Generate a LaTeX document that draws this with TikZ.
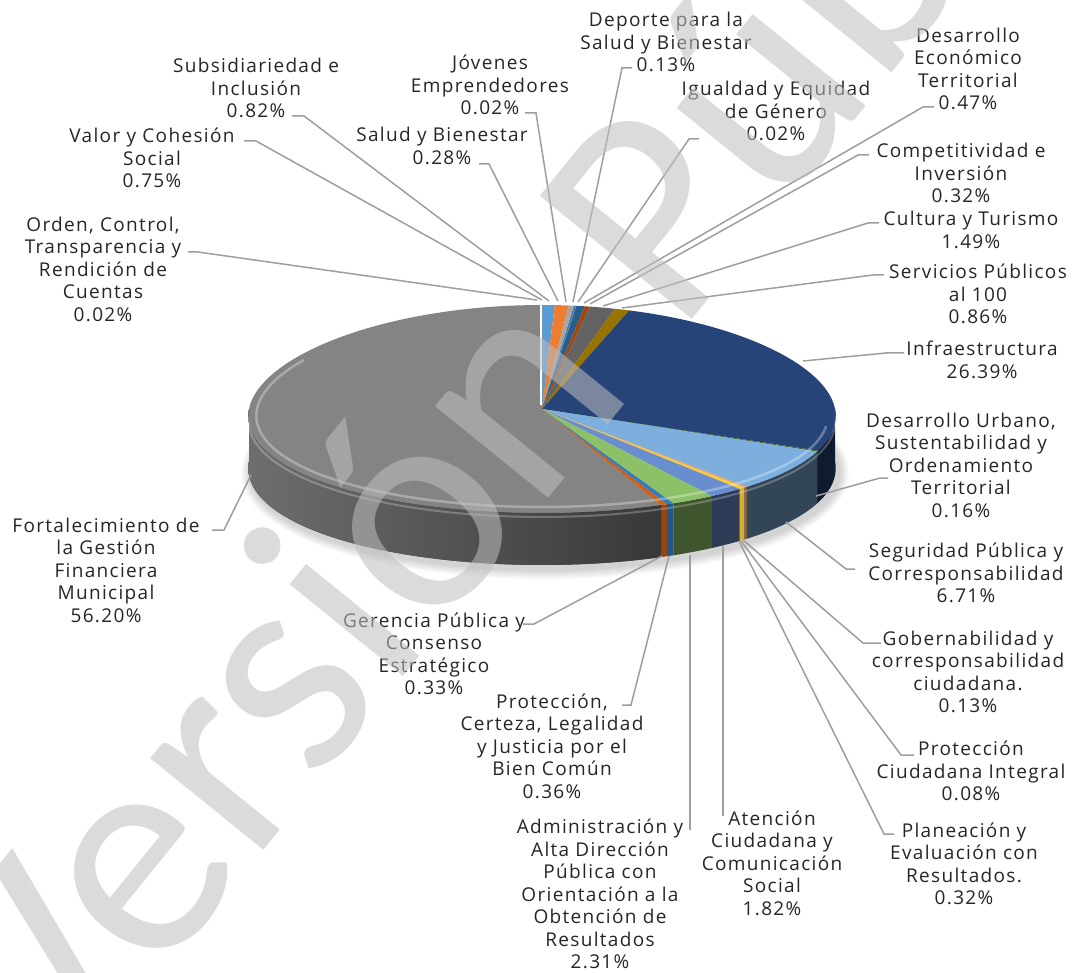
\documentclass[tikz,border=0pt]{standalone}
\usepackage{fontspec}
\setmainfont{Open Sans}[LetterSpace=7]
\newfontfamily\wmfont{Carlito}
\usepackage{tikz}

% slice colours
\definecolor{cValor}{HTML}{5B9BD5}
\definecolor{cSubs}{HTML}{ED7D31}
\definecolor{cSalud}{HTML}{A5A5A5}
\definecolor{cJoven}{HTML}{FFC000}
\definecolor{cDeporte}{HTML}{4472C4}
\definecolor{cIgual}{HTML}{70AD47}
\definecolor{cDesEco}{HTML}{255E91}
\definecolor{cCompet}{HTML}{9E480E}
\definecolor{cCultura}{HTML}{636363}
\definecolor{cServ}{HTML}{997300}
\definecolor{cInfra}{HTML}{264478}
\definecolor{cDesUrb}{HTML}{43682B}
\definecolor{cSegur}{HTML}{7CAFDD}
\definecolor{cGobern}{HTML}{F1975A}
\definecolor{cProtCiu}{HTML}{B7B7B7}
\definecolor{cPlanea}{HTML}{FFCD33}
\definecolor{cAtencion}{HTML}{698ED0}
\definecolor{cAdmin}{HTML}{8CC168}
\definecolor{cProtCer}{HTML}{327DC2}
\definecolor{cGerencia}{HTML}{D26012}
\definecolor{cFortal}{HTML}{848484}
\definecolor{cOrden}{HTML}{CC9A00}

\newcommand{\lblfont}{\fontsize{19}{22.5}\selectfont}
% pie geometry
\def\pcx{542} \def\pcy{409} \def\pra{293} \def\prb{104} \def\ph{52} \def\pk{0.07}

\begin{document}
\begin{tikzpicture}[x=1pt,y=-1pt]
    \tikzstyle{lbl} = [align=center,inner sep=0pt,text=black!85,font=\lblfont]
    \tikzstyle{leader} = [draw=black!38,line width=1.5pt]
    \useasboundingbox (0,0) rectangle (1076,973);
    \fill[white] (0,0) rectangle (1076,973);
    %% shadow
    \foreach \i in {1,...,5}
      \fill[black,opacity=.035] plot[domain=0:360,samples=90,variable=\q]
        ({\pcx+3+(\pra+2*\i)*sin(\q)*(1-\pk*cos(\q))},{\pcy+\ph+4-(\prb+2*\i)*cos(\q)}) -- cycle;
    %% slices: start/end angle (clockwise from top), colour, side shade
    \foreach \a/\b/\c/\d in {0/2.7/cValor/42, 2.7/5.652/cSubs/42, 5.652/6.66/cSalud/42,
        6.66/6.732/cJoven/42, 6.732/7.2/cDeporte/42, 7.2/7.272/cIgual/42, 7.272/8.964/cDesEco/42,
        8.964/10.116/cCompet/42, 10.116/15.48/cCultura/42, 15.48/18.576/cServ/42,
        18.576/113.58/cInfra/40, 113.58/114.156/cDesUrb/42, 114.156/138.312/cSegur/40,
        138.312/138.78/cGobern/60, 138.78/139.068/cProtCiu/60, 139.068/140.22/cPlanea/85,
        140.22/146.772/cAtencion/42, 146.772/155.088/cAdmin/44, 155.088/156.384/cProtCer/70,
        156.384/157.572/cGerencia/72, 157.572/359.93/cFortal/50, 359.93/360/cOrden/42} {
      % side wall (front half only)
      \pgfmathsetmacro\sa{max(\a,90)}
      \pgfmathsetmacro\sb{min(\b,270)}
      \ifdim\sa pt<\sb pt
        \fill[fill=\c!\d!black]
          plot[domain=\sa:\sb,samples=60,variable=\q] ({\pcx+\pra*sin(\q)*(1-\pk*cos(\q))},{\pcy-\prb*cos(\q)})
          -- plot[domain=\sb:\sa,samples=60,variable=\q] ({\pcx+\pra*sin(\q)*(1-\pk*cos(\q))},{\pcy+\ph-\prb*cos(\q)}) -- cycle;
      \fi
      % top face
      \fill[fill=\c] (\pcx,\pcy)
        -- plot[domain=\a:\b,samples=80,variable=\q] ({\pcx+\pra*sin(\q)*(1-\pk*cos(\q))},{\pcy-\prb*cos(\q)}) -- cycle;
    }
    %% shaded side of the large slice
    \shade[left color=black!57,right color=black!78]
      plot[domain=157.572:270,samples=80,variable=\q] ({\pcx+\pra*sin(\q)*(1-\pk*cos(\q))},{\pcy-\prb*cos(\q)})
      -- plot[domain=270:157.572,samples=80,variable=\q] ({\pcx+\pra*sin(\q)*(1-\pk*cos(\q))},{\pcy+\ph-\prb*cos(\q)}) -- cycle;
    %% bevel highlight
    \draw[white,opacity=.3,line width=2.5pt]
      plot[domain=100:300,samples=80,variable=\q] ({\pcx+(\pra-8)*sin(\q)*(1-\pk*cos(\q))},{\pcy-(\prb-6)*cos(\q)});
    \draw[white,opacity=.25,line width=2pt]
      plot[domain=92:268,samples=80,variable=\q] ({\pcx+\pra*sin(\q)*(1-\pk*cos(\q))},{\pcy+4-\prb*cos(\q)});
    \draw[white,line width=2.5pt] (\pcx-1,\pcy-4) -- (\pcx-1,\pcy-\prb);
    %%
    %% labels, left
    \node[lbl] (orden) at (103,269) {Orden, Control,\\Transparencia y\\Rendición de\\Cuentas\\0.02\%};
    \node[lbl] (valor) at (152,158) {Valor y Cohesión\\Social\\0.75\%};
    \node[lbl] (subs) at (256,88) {Subsidiariedad e\\Inclusión\\0.82\%};
    \node[lbl] (salud) at (442,146) {Salud y Bienestar\\0.28\%};
    \node[lbl] (jovenes) at (490,85) {Jóvenes\\Emprendedores\\0.02\%};
    \node[lbl] (fortal) at (106,570) {Fortalecimiento de\\la Gestión\\Financiera\\Municipal\\56.20\%};
    \node[lbl] (gerencia) at (434,654) {Gerencia Pública y\\Consenso\\Estratégico\\0.33\%};
    \node[lbl] (protcert) at (552,746) {Protección,\\Certeza, Legalidad\\y Justicia por el\\Bien Común\\0.36\%};
    \node[lbl] (admin) at (600,894) {Administración y\\Alta Dirección\\Pública con\\Orientación a la\\Obtención de\\Resultados\\2.31\%};
    %% labels, right
    \node[lbl] (deporte) at (666,42) {Deporte para la\\Salud y Bienestar\\0.13\%};
    \node[lbl] (igualdad) at (776,111) {Igualdad y Equidad\\de Género\\0.02\%};
    \node[lbl] (desecon) at (968,69) {Desarrollo\\Económico\\Territorial\\0.47\%};
    \node[lbl] (compet) at (961,173) {Competitividad e\\Inversión\\0.32\%};
    \node[lbl] (cultura) at (971,230) {Cultura y Turismo\\1.49\%};
    \node[lbl] (servicios) at (978,294) {Servicios Públicos\\al 100\\0.86\%};
    \node[lbl] (infra) at (982,360) {Infraestructura\\26.39\%};
    \node[lbl] (desurb) at (961,465) {Desarrollo Urbano,\\Sustentabilidad y\\Ordenamiento\\Territorial\\0.16\%};
    \node[lbl] (seguridad) at (966,573) {Seguridad Pública y\\Corresponsabilidad\\6.71\%};
    \node[lbl] (gobern) at (968,672) {Gobernabilidad y\\corresponsabilidad\\ciudadana.\\0.13\%};
    \node[lbl] (protciud) at (971,771) {Protección\\Ciudadana Integral\\0.08\%};
    \node[lbl] (planea) at (964,864) {Planeación y\\Evaluación con\\Resultados.\\0.32\%};
    \node[lbl] (atencion) at (772,863) {Atención\\Ciudadana y\\Comunicación\\Social\\1.82\%};
    %%
    %% leader ends: text side (-l) and pie side (-p)
    \coordinate (orden-l) at (188,252);     \coordinate (orden-p) at (537,300);
    \coordinate (valor-l) at (244,141);     \coordinate (valor-p) at (542,300);
    \coordinate (subs-l) at (292,116);      \coordinate (subs-p) at (549,301);
    \coordinate (salud-l) at (479,164);     \coordinate (salud-p) at (558,301);
    \coordinate (jovenes-l) at (525,113);   \coordinate (jovenes-p) at (566,302);
    \coordinate (fortal-l) at (212,530);    \coordinate (fortal-p) at (251,475);
    \coordinate (gerencia-l) at (523,624);  \coordinate (gerencia-p) at (662,556);
    \coordinate (protcert-l) at (622,705);  \coordinate (protcert-p) at (669,556);
    \coordinate (admin-l) at (690,830);     \coordinate (admin-p) at (690,555);
    \coordinate (deporte-l) at (632,68);    \coordinate (deporte-p) at (573,302);
    \coordinate (igualdad-l) at (699,139);  \coordinate (igualdad-p) at (578,302);
    \coordinate (desecon-l) at (934,107);   \coordinate (desecon-p) at (584,303);
    \coordinate (compet-l) at (869,155);    \coordinate (compet-p) at (590,304);
    \coordinate (cultura-l) at (879,223);   \coordinate (cultura-p) at (603,306);
    \coordinate (servicios-l) at (884,275); \coordinate (servicios-p) at (622,308);
    \coordinate (infra-l) at (904,353);     \coordinate (infra-p) at (803,361);
    \coordinate (desurb-l) at (888,478);    \coordinate (desurb-p) at (816,496);
    \coordinate (seguridad-l) at (855,569); \coordinate (seguridad-p) at (786,522);
    \coordinate (gobern-l) at (881,643);    \coordinate (gobern-p) at (743,540);
    \coordinate (protciud-l) at (914,755);  \coordinate (protciud-p) at (741,541);
    \coordinate (planea-l) at (894,834);    \coordinate (planea-p) at (739,541);
    \coordinate (atencion-l) at (723,816);  \coordinate (atencion-p) at (723,546);
    %% leaders
    \draw[leader] (orden-l) -- ++(10,0) -- (orden-p);
    \draw[leader] (valor-l) -- ++(12,0) -- (valor-p);
    \draw[leader] (subs-l) -- ++(12,0) -- (subs-p);
    \draw[leader] (salud-l) -- ++(10,0) -- (salud-p);
    \draw[leader] (jovenes-l) -- ++(11,0) -- (jovenes-p);
    \draw[leader] (fortal-l) -- ++(12,0) -- (fortal-p);
    \draw[leader] (gerencia-l) -- ++(11,0) -- (gerencia-p);
    \draw[leader] (protcert-l) -- ++(9,0) -- (protcert-p);
    \draw[leader] (admin-l) -- (admin-p);
    \draw[leader] (deporte-l) -- ++(-10,0) -- (deporte-p);
    \draw[leader] (igualdad-l) -- ++(-10,0) -- (igualdad-p);
    \draw[leader] (desecon-l) -- ++(-11,0) -- (desecon-p);
    \draw[leader] (compet-l) -- ++(-11,0) -- (compet-p);
    \draw[leader] (cultura-l) -- ++(-11,0) -- (cultura-p);
    \draw[leader] (servicios-l) -- ++(-11,0) -- (servicios-p);
    \draw[leader] (infra-l) -- ++(-18,0) -- (infra-p);
    \draw[leader] (desurb-l) -- ++(-8,0) -- (desurb-p);
    \draw[leader] (seguridad-l) -- ++(-9,0) -- (seguridad-p);
    \draw[leader] (gobern-l) -- ++(-18,0) -- (gobern-p);
    \draw[leader] (protciud-l) -- ++(-13,0) -- (protciud-p);
    \draw[leader] (planea-l) -- ++(-10,0) -- (planea-p);
    \draw[leader] (atencion-l) -- (atencion-p);
    %%
    %% watermark
    \node[rotate=51,anchor=base west,text=black!25,opacity=.55,inner sep=0pt,
          font=\wmfont\fontsize{305}{305}\selectfont] (marca) at (56,1106) {Versión Pública};
\end{tikzpicture}
\end{document}
